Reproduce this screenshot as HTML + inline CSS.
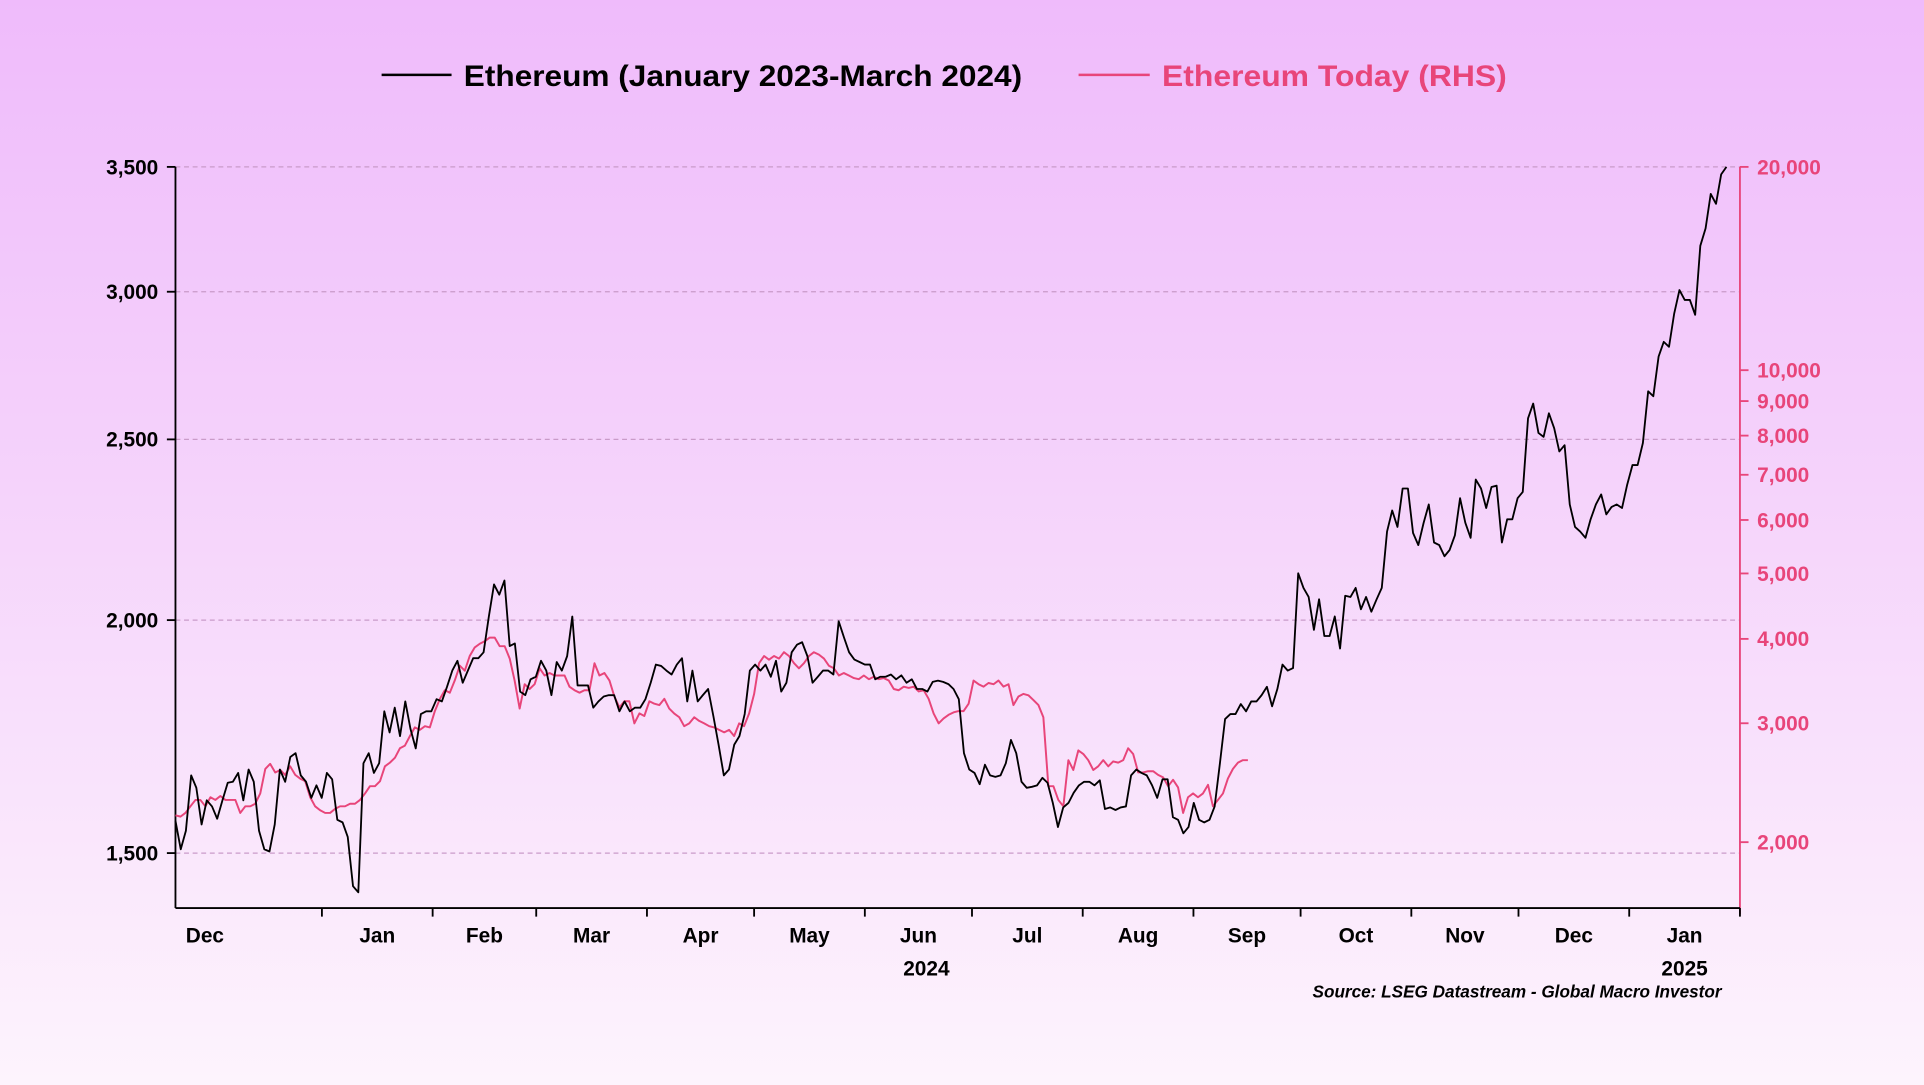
<!DOCTYPE html>
<html><head><meta charset="utf-8">
<style>
html,body{margin:0;padding:0;}
body{width:1924px;height:1085px;overflow:hidden;background:linear-gradient(#efbbfb 0%,#f5d3fb 45%,#fdf4fd 100%);font-family:"Liberation Sans",Arial,sans-serif;}
svg{display:block}
</style></head>
<body>
<svg id="chart" width="1924" height="1085" viewBox="0 0 1568 884.2" xmlns="http://www.w3.org/2000/svg">
  <g>
    <line x1="311" y1="61" x2="368" y2="61" stroke="#000" stroke-width="2"/>
    <text x="378" y="70" font-size="24" font-weight="bold" fill="#000" textLength="455" lengthAdjust="spacingAndGlyphs">Ethereum (January 2023-March 2024)</text>
    <line x1="879" y1="61" x2="937" y2="61" stroke="#e8457a" stroke-width="2"/>
    <text x="947" y="70" font-size="24" font-weight="bold" fill="#e8457a" textLength="281" lengthAdjust="spacingAndGlyphs">Ethereum Today (RHS)</text>
  </g>
  <g id="grid"></g>
  <g id="axes"></g>
  <g id="series"></g>
  <text x="1403" y="813" text-anchor="end" font-size="14" font-style="italic" font-weight="bold" fill="#000">Source: LSEG Datastream - Global Macro Investor</text>
</svg>
<script>
const leftTicks=[3500,3000,2500,2000,1500];
const leftTickLabels=["3,500","3,000","2,500","2,000","1,500"];
const rightTicks=[20000,10000,9000,8000,7000,6000,5000,4000,3000,2000];
const rightTickLabels=["20,000","10,000","9,000","8,000","7,000","6,000","5,000","4,000","3,000","2,000"];
const monthLabels=["Dec","Jan","Feb","Mar","Apr","May","Jun","Jul","Aug","Sep","Oct","Nov","Dec","Jan"];
const monthDays=[41,31,29,31,30,31,30,31,31,30,31,30,31,31];
const yearLabels=["2024","2025"];
const yearMonthIndex=[6,13];
const blackSeries=[1561,1507,1542,1651,1626,1554,1601,1589,1565,1601,1636,1638,1656,1601,1663,1638,1542,1507,1503,1554,1663,1638,1689,1697,1651,1638,1606,1631,1606,1656,1643,1563,1558,1530,1440,1429,1676,1697,1656,1676,1787,1741,1795,1733,1809,1749,1707,1781,1787,1787,1814,1809,1842,1879,1902,1851,1879,1908,1908,1922,2009,2090,2064,2100,1937,1943,1831,1823,1859,1865,1902,1879,1823,1899,1879,1913,2009,1845,1845,1845,1795,1809,1820,1823,1823,1787,1809,1787,1795,1795,1814,1851,1893,1890,1879,1870,1893,1908,1809,1879,1809,1823,1837,1776,1715,1651,1663,1715,1733,1781,1879,1893,1879,1893,1865,1902,1831,1851,1922,1940,1946,1913,1851,1865,1879,1879,1870,1997,1958,1922,1905,1899,1893,1893,1859,1865,1865,1870,1859,1868,1851,1859,1837,1837,1831,1853,1856,1853,1848,1837,1814,1697,1663,1656,1633,1673,1651,1648,1651,1676,1725,1697,1638,1626,1628,1631,1646,1636,1596,1549,1587,1596,1616,1631,1638,1638,1631,1641,1584,1587,1582,1587,1589,1651,1663,1656,1651,1631,1606,1643,1643,1568,1563,1537,1549,1596,1563,1558,1563,1589,1676,1770,1781,1781,1803,1787,1809,1809,1823,1842,1798,1837,1893,1879,1885,2119,2081,2058,1976,2052,1961,1961,2009,1931,2061,2058,2081,2027,2058,2021,2052,2081,2231,2290,2244,2353,2353,2227,2194,2255,2307,2201,2194,2164,2181,2221,2325,2255,2214,2379,2353,2297,2357,2361,2201,2265,2265,2325,2343,2566,2613,2520,2508,2582,2535,2463,2482,2307,2244,2231,2214,2265,2307,2336,2279,2300,2307,2297,2364,2422,2422,2489,2653,2637,2769,2820,2803,2920,3006,2970,2970,2916,3175,3244,3385,3344,3468,3500];
const pinkSeries=[2192,2182,2210,2260,2310,2310,2260,2331,2310,2341,2310,2310,2310,2210,2260,2260,2280,2362,2568,2612,2537,2558,2516,2590,2516,2484,2463,2331,2260,2230,2210,2210,2240,2260,2260,2280,2280,2310,2362,2421,2421,2463,2590,2623,2667,2755,2780,2872,2958,2933,2970,2958,3127,3261,3358,3330,3471,3650,3589,3773,3885,3935,3968,4018,4018,3901,3901,3741,3471,3154,3427,3372,3427,3619,3530,3560,3530,3530,3530,3399,3358,3330,3358,3358,3681,3530,3560,3471,3287,3166,3233,3233,2999,3102,3075,3233,3206,3192,3261,3154,3101,3062,2970,2999,3062,3024,2999,2970,2958,2933,2909,2933,2872,2999,2970,3101,3315,3681,3773,3726,3773,3741,3822,3773,3681,3619,3681,3773,3822,3790,3741,3650,3619,3530,3560,3530,3500,3486,3530,3486,3515,3486,3500,3471,3372,3358,3399,3385,3399,3344,3358,3261,3101,2999,3049,3088,3114,3127,3127,3206,3471,3427,3399,3441,3427,3471,3399,3427,3192,3287,3315,3301,3247,3192,3062,2421,2421,2310,2260,2645,2558,2735,2701,2645,2558,2590,2645,2590,2634,2623,2645,2755,2701,2537,2537,2547,2547,2516,2495,2421,2474,2410,2210,2331,2362,2331,2362,2432,2260,2310,2362,2484,2568,2623,2645,2645];

const NS="http://www.w3.org/2000/svg";
const X0=143,X1=1418,YT=136,YB=740;
const yL=v=>136+660*(Math.log(3500)-Math.log(v));
const yR=v=>136+239*(Math.log(20000)-Math.log(v));
const xB=i=>X0+i*((1407-X0)/(blackSeries.length-1));
const xP=i=>X0+i*((1017-X0)/(pinkSeries.length-1));
function mk(tag,attrs,parent){const e=document.createElementNS(NS,tag);for(const k in attrs)e.setAttribute(k,attrs[k]);parent.appendChild(e);return e;}
const grid=document.getElementById('grid'),axes=document.getElementById('axes'),series=document.getElementById('series');

leftTicks.forEach((t,i)=>{
  const y=yL(t);
  const g=mk('line',{x1:X0,x2:X1,y1:y,y2:y,stroke:'#c99bc9','stroke-width':1,'stroke-dasharray':'4 3'},grid);
  
  
  const tk=mk('line',{x1:X0-7,x2:X0,y1:y,y2:y,stroke:'#000','stroke-width':1.5},axes);
  
  
  const tx=mk('text',{x:X0-14,y:y+6,'text-anchor':'end','font-size':17,'font-weight':'bold',fill:'#000'},axes);
  tx.textContent=leftTickLabels[i];
  
  
});
rightTicks.forEach((t,i)=>{
  const y=yR(t);
  const tk=mk('line',{x1:X1,x2:X1+7,y1:y,y2:y,stroke:'#e8457a','stroke-width':1.5},axes);
  
  
  const tx=mk('text',{x:X1+14,y:y+6,'font-size':17,'font-weight':'bold',fill:'#e8457a'},axes);
  tx.textContent=rightTickLabels[i];
  
  
});
const la=mk('line',{x1:X0,x2:X0,y1:YT,y2:YB,stroke:'#000','stroke-width':1.5},axes);


const ra=mk('line',{x1:X1,x2:X1,y1:YT,y2:YB+5,stroke:'#e8457a','stroke-width':1.5},axes);


const ba=mk('line',{x1:X0,x2:X1,y1:YB,y2:YB,stroke:'#000','stroke-width':1.5},axes);


const totalDays=monthDays.reduce((a,b)=>a+b,0);
const xd=d=>X0+(X1-X0)*d/totalDays;
let acc=0;
monthLabels.forEach((m,i)=>{
  const s=acc,e=acc+monthDays[i];acc=e;
  if(i>0){const tk=mk('line',{x1:xd(s),x2:xd(s),y1:YB,y2:YB+7,stroke:'#000','stroke-width':1.5},axes);
  
  }
  const cx=i===0?167:(xd(s)+xd(e))/2;
  const tx=mk('text',{x:cx,y:768,'text-anchor':'middle','font-size':17,'font-weight':'bold',fill:'#000'},axes);
  tx.textContent=m;
  
  
  const yi=yearMonthIndex.indexOf(i);
  if(yi>=0){const yt=mk('text',{x:i===6?755:cx,y:795,'text-anchor':'middle','font-size':17,'font-weight':'bold',fill:'#000'},axes);
  yt.textContent=yearLabels[yi];
  
  }
});
const endTk=mk('line',{x1:X1,x2:X1,y1:YB,y2:YB+7,stroke:'#000','stroke-width':1.5},axes);



const pp=mk('polyline',{points:pinkSeries.map((v,i)=>xP(i).toFixed(1)+','+yR(v).toFixed(1)).join(' '),fill:'none',stroke:'#e8457a','stroke-width':1.6,'stroke-linejoin':'round'},series);


const bp=mk('polyline',{points:blackSeries.map((v,i)=>xB(i).toFixed(1)+','+yL(v).toFixed(1)).join(' '),fill:'none',stroke:'#000','stroke-width':1.5,'stroke-linejoin':'round'},series);


</script>
</body></html>
